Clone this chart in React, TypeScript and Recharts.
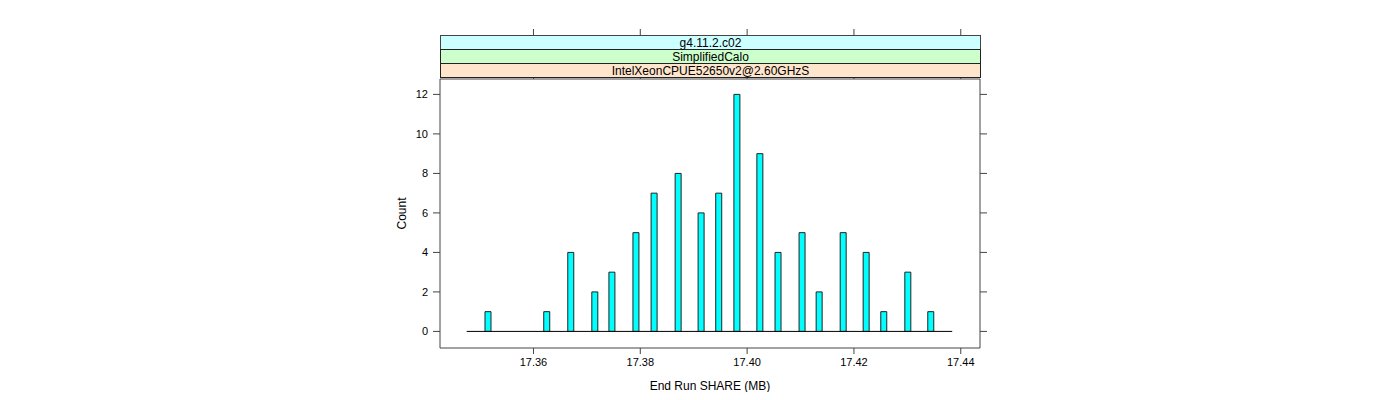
import React from 'react'
import {
  ComposedChart, Bar, XAxis, YAxis, ReferenceLine,
} from 'recharts'

// histogram of end-run SHARE memory (MB)
const shareValues = [
  17.3514, 17.3624, 17.3669, 17.3714, 17.3746, 17.3791, 17.3825, 17.3870, 17.3913, 17.3946,
  17.3980, 17.4023, 17.4057, 17.4102, 17.4134, 17.4179, 17.4222, 17.4255, 17.4300, 17.4343,
]
const counts = [1, 1, 4, 2, 3, 5, 7, 8, 6, 7, 12, 9, 4, 5, 2, 5, 4, 1, 3, 1]

const xTicks = [17.36, 17.38, 17.40, 17.42, 17.44]
const yTicks = [0, 2, 4, 6, 8, 10, 12]
const xDomain = [17.3425, 17.4436]
const yDomain = [-0.84, 12.78]
const baseStart = 17.3475
const baseEnd = 17.4384

const stripLabels = ['g4.11.2.c02', 'SimplifiedCalo', 'IntelXeonCPUE52650v2@2.60GHzS']
const stripColors = ['#ccffff', '#ccffcc', '#ffe5cc']

const data = shareValues.map((x, i) => ({ x, count: counts[i] }))

const W = 1000
const H = 384
const AXIS = '#444'
const FONT = '"Liberation Sans", Arial, sans-serif'

// keeps the tick line, drops the label
const NoLabel = () => <g />

export default function App() {
  const tick = { fill: '#000', fontSize: 11 }
  return (
    <div style={{ position: 'relative', width: W, height: H, fontFamily: FONT }}>
      <ComposedChart
        width={W} height={H} data={data}
        margin={{ top: 27, right: 8, left: 372, bottom: 0 }}
      >
        <XAxis
          xAxisId="bottom" dataKey="x" type="number"
          domain={xDomain} ticks={xTicks} allowDataOverflow
          tickFormatter={v => v.toFixed(2)}
          tick={tick} tickSize={6} tickMargin={4}
          stroke={AXIS} height={44}
          label={{ value: 'End Run SHARE (MB)', position: 'insideBottom', offset: 2, fill: '#000', fontSize: 12 }}
        />
        <XAxis
          xAxisId="top" orientation="top" dataKey="x" type="number"
          domain={xDomain} ticks={xTicks} allowDataOverflow
          tick={<NoLabel />} tickSize={50} stroke={AXIS} height={44}
        />
        <YAxis
          yAxisId="left" domain={yDomain} ticks={yTicks} allowDataOverflow
          tick={tick} tickSize={7} tickMargin={5} stroke={AXIS} width={60}
          label={{ value: 'Count', angle: -90, position: 'insideLeft', offset: 22, fill: '#000', fontSize: 12, style: { textAnchor: 'middle' } }}
        />
        <YAxis
          yAxisId="right" orientation="right" domain={yDomain} ticks={yTicks} allowDataOverflow
          tick={<NoLabel />} tickSize={7} stroke={AXIS} width={20}
        />
        <Bar
          xAxisId="bottom" yAxisId="left" dataKey="count"
          barSize={6} fill="#00ffff" stroke="#222" strokeWidth={1}
          isAnimationActive={false}
        />
        <ReferenceLine
          xAxisId="bottom" yAxisId="left"
          segment={[{ x: baseStart, y: 0 }, { x: baseEnd, y: 0 }]}
          stroke="#000" strokeWidth={1}
        />
      </ComposedChart>
      <div style={{ position: 'absolute', left: 432, top: 27, width: 541 }}>
        {stripLabels.map((s, i) => (
          <div
            key={s}
            style={{
              boxSizing: 'border-box', height: 15,
              marginTop: i === 0 ? 0 : -1,
              background: stripColors[i], border: `1px solid ${i === 0 ? AXIS : '#222'}`,
              fontSize: 12, lineHeight: '14px', textAlign: 'center', color: '#000',
            }}
          >
            {s}
          </div>
        ))}
      </div>
    </div>
  )
}
